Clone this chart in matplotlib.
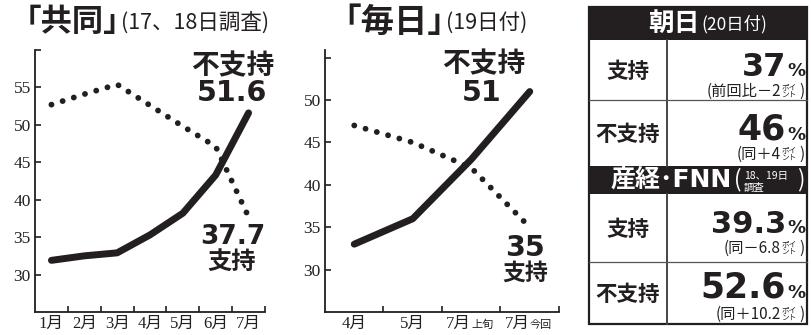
# 内閣支持率 — 共同 / 毎日 の推移と朝日・産経FNN の表
import matplotlib
matplotlib.use('Agg')
import matplotlib.pyplot as plt
from matplotlib.patches import Rectangle

# データ
kyodo_months = ['1月', '2月', '3月', '4月', '5月', '6月', '7月']
kyodo_support = [52.7, 54.1, 55.4, 52.6, 49.8, 47.1, 37.7]
kyodo_oppose = [31.9, 32.5, 32.9, 35.3, 38.2, 43.3, 51.6]

mainichi_months = ['4月', '5月', '7月', '7月']
mainichi_suffix = ['', '', '上旬', '今回']
mainichi_support = [47, 45, 42, 35]
mainichi_oppose = [33, 36, 43, 51]

table_papers = ['朝日', '産経･FNN']
table_support = [37, 39.3]
table_oppose = [46, 52.6]
table_support_diff = ['前回比－2', '同－6.8']
table_oppose_diff = ['同＋4', '同＋10.2']

W, H = 812, 335
INK = '#231f20'
SANS = ['DejaVu Sans', 'Noto Sans CJK JP']
JP = ['Noto Sans CJK JP', 'DejaVu Sans']
SERIF = ['Liberation Serif', 'Noto Sans CJK JP']

fig = plt.figure(figsize=(W / 100, H / 100), dpi=100)


def box(x0, x1, y0, y1):
    # ピクセル座標(左上原点) -> figure座標
    return [x0 / W, 1 - y1 / H, (x1 - x0) / W, (y1 - y0) / H]


def draw_chart(ax, support, oppose, ylim, yticks):
    x = list(range(1, len(support) + 1))
    ax.plot(x, oppose, color=INK, lw=5, solid_capstyle='round',
            solid_joinstyle='round')
    ax.plot(x, support, color=INK, lw=4.2, linestyle=(0, (0.01, 2.0)),
            dash_capstyle='round')
    ax.set_xlim(0.5, len(support) + 0.5)
    ax.set_ylim(*ylim)
    ax.set_xticks([i + 0.5 for i in x])
    ax.set_xticklabels([])
    ax.set_yticks(yticks)
    ax.set_yticklabels([str(t) for t in yticks[:-1]] + [''],
                       fontfamily=SERIF, fontsize=12.5, color=INK)
    for s in ['top', 'right']:
        ax.spines[s].set_visible(False)
    for s in ['left', 'bottom']:
        ax.spines[s].set_linewidth(1.3)
        ax.spines[s].set_color(INK)
    ax.tick_params(direction='in', length=4, width=1.2, colors=INK, pad=3)
    ax.patch.set_alpha(0)
    return x


def month_label(ax, i, main, sfx=''):
    kw = dict(xy=(i, 0), xycoords=('data', 'axes fraction'),
              xytext=(0, -11.5), textcoords='offset points',
              va='baseline', color=INK)
    if sfx:
        ax.annotate(main, ha='right', fontsize=12, family=SERIF, **kw)
        ax.annotate(sfx, ha='left', fontsize=8, family=JP, **kw)
    else:
        ax.annotate(main, ha='center', fontsize=12, family=SERIF, **kw)


# 共同
ax1 = fig.add_axes(box(35, 265, 50, 312))
xs = draw_chart(ax1, kyodo_support, kyodo_oppose, (25, 60),
                [30, 35, 40, 45, 50, 55, 60])
for i, m in zip(xs, kyodo_months):
    month_label(ax1, i, m)

# 毎日
ax2 = fig.add_axes(box(325, 559, 50, 312))
xs = draw_chart(ax2, mainichi_support, mainichi_oppose, (25, 55.9),
                [30, 35, 40, 45, 50, 55])
for i, m, sfx in zip(xs, mainichi_months, mainichi_suffix):
    month_label(ax2, i, m, sfx)

# 上に重ねる文字と表 (ピクセル座標)
ov = fig.add_axes([0, 0, 1, 1])
ov.set_xlim(0, W)
ov.set_ylim(H, 0)
ov.axis('off')


def t(x, y, s, size, weight='bold', ha='center', va='center', fam=SANS,
      color=INK):
    ov.text(x, y, s, fontsize=size, fontweight=weight, ha=ha, va=va,
            family=fam, color=color)


# タイトル
t(119, 22, '｢共同｣', 22.5, ha='right', fam=JP)
t(121, 23, '(17、18日調査)', 15.5, weight='normal', ha='left', fam=JP)
t(444, 22, '｢毎日｣', 24, ha='right', fam=JP)
t(446, 23, '(19日付)', 15.5, weight='normal', ha='left', fam=JP)

# 線の注記
t(233, 66, '不支持', 20)
t(232, 93, f'{kyodo_oppose[-1]}', 20.5)
t(233, 237, f'{kyodo_support[-1]}', 19)
t(232, 262, '支持', 17.5)
t(484, 64, '不支持', 20)
t(482, 93, f'{mainichi_oppose[-1]}', 20.5)
t(525, 248, f'{mainichi_support[-1]}', 20.5)
t(525, 273, '支持', 16.5)

# 表
X0, X1, XM = 589, 807, 667
header_y = [(7, 40), (166, 194)]
rows = [[(40, 100), (100, 166)], [(194, 262), (262, 324)]]
ov.add_patch(Rectangle((X0, 7), X1 - X0, 324 - 7, fill=False, lw=1.6,
                       ec=INK))
for (y0, y1) in header_y:
    ov.add_patch(Rectangle((X0, y0), X1 - X0, y1 - y0, color=INK, lw=0))
for blk in rows:
    ov.plot([XM, XM], [blk[0][0], blk[1][1]], color='#444444', lw=1.4)
    ov.plot([X0, X1], [blk[0][1], blk[0][1]], color='#555555', lw=0.9)

# 見出し
t(674, 23, table_papers[0], 18.5, color='white', fam=JP)
t(701, 24, '(20日付)', 12.5, weight='normal', ha='left', color='white', fam=JP)
t(732, 180, table_papers[1], 18, ha='right', color='white')
t(734, 180, '(', 16, weight='normal', ha='left', color='white', fam=JP)
t(744, 175.5, '18、19日', 7.5, weight='normal', ha='left', color='white', fam=JP)
t(744, 187.5, '調査', 7.5, weight='normal', ha='left', color='white', fam=JP)
t(804, 180, ')', 16, weight='normal', ha='right', color='white', fam=JP)

# 行
cells = []
for k in range(2):
    cells.append(('支持', table_support[k], table_support_diff[k], rows[k][0]))
    cells.append(('不支持', table_oppose[k], table_oppose_diff[k], rows[k][1]))

big = [(23, 76, 91), (25, 140, 154), (22, 233, 248), (25, 298, 314)]
for (label, val, diff, (y0, y1)), (bs, base, sy) in zip(cells, big):
    t(628, (y0 + y1) / 2 + 1, label, 15.5, fam=JP)
    t(786, base, f'{val}', bs, ha='right', va='baseline')
    t(787, base, '%', 13, ha='left', va='baseline')
    t(781, sy, '(' + diff, 11, weight='normal', ha='right', fam=JP)
    t(797, sy - 3.7, 'ポイ', 5.5, weight='normal', ha='right', fam=JP)
    t(797, sy + 3.7, 'ント', 5.5, weight='normal', ha='right', fam=JP)
    t(804, sy, ')', 11, weight='normal', ha='right', fam=JP)

fig.savefig('out.png', dpi=100)
